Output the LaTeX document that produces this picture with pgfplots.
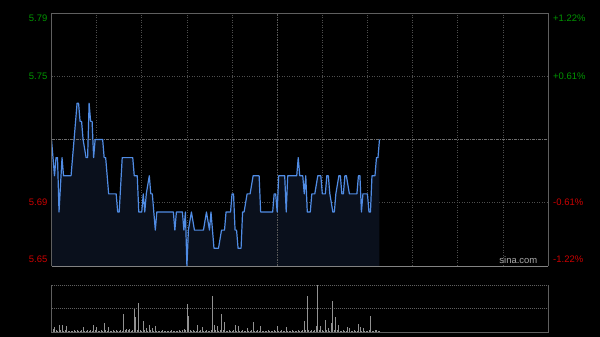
\documentclass[border=0pt]{standalone}
\usepackage{pgfplots}
\pgfplotsset{compat=1.18}
\usepackage{pgfplotstable}
\usepackage{fontspec}
\setmainfont{Liberation Sans}
\definecolor{upgreen}{RGB}{0,150,0}
\definecolor{dnred}{RGB}{205,0,0}
\definecolor{bordergray}{RGB}{95,95,95}
\definecolor{bottomgray}{RGB}{130,130,130}
\definecolor{gridgray}{RGB}{78,78,78}
\definecolor{centergray}{RGB}{110,110,110}
\definecolor{midgray}{RGB}{90,90,90}
\definecolor{pricel}{RGB}{80,140,228}
\definecolor{fillcol}{RGB}{10,16,28}
\definecolor{volgray}{RGB}{145,145,145}
\definecolor{volgrid}{RGB}{95,95,95}
\definecolor{sinagray}{RGB}{170,170,170}
\newcommand\lab{\fontsize{9.5}{11}\selectfont}

\pgfplotstableread{
m p
0 5.72
2 5.70
3 5.71
4 5.71
5 5.68
7 5.71
8 5.70
13 5.70
15 5.72
17 5.74
18 5.74
19 5.73
20 5.73
21 5.72
23 5.71
24 5.71
25 5.74
26 5.73
27 5.73
28 5.71
29 5.72
34 5.72
35 5.71
36 5.71
38 5.69
43 5.69
44 5.68
45 5.68
47 5.71
54 5.71
55 5.70
57 5.70
58 5.68
60 5.68
61 5.69
62 5.68
63 5.69
65 5.70
66 5.69
67 5.69
69 5.67
70 5.68
81 5.68
82 5.67
83 5.68
87 5.68
88 5.67
89 5.68
90 5.65
91 5.67
93 5.68
95 5.67
101 5.67
103 5.68
105 5.67
106 5.68
108 5.66
111 5.66
113 5.67
115 5.67
116 5.68
119 5.68
120 5.69
121 5.69
122 5.67
123 5.67
124 5.66
126 5.66
127 5.68
128 5.68
130 5.69
132 5.69
134 5.70
138 5.70
139 5.68
147 5.68
148 5.69
149 5.69
150 5.68
151 5.70
155 5.70
156 5.68
157 5.70
163 5.70
164 5.71
165 5.70
167 5.70
168 5.69
169 5.70
170 5.68
172 5.68
173 5.69
175 5.69
177 5.70
179 5.70
180 5.69
182 5.69
183 5.70
184 5.70
185 5.69
187 5.68
188 5.68
189 5.69
191 5.70
192 5.70
193 5.69
194 5.69
195 5.70
196 5.70
198 5.69
203 5.69
204 5.70
205 5.70
206 5.68
207 5.69
210 5.69
211 5.68
212 5.68
213 5.70
215 5.70
216 5.71
217 5.71
218 5.72
}\pricedata

\pgfplotstableread{
m v
0 .05
1 .07
2 .10
3 .04
4 .03
5 .15
6 .04
7 .15
8 .03
9 .04
10 .12
11 .03
12 .02
13 .03
14 .02
15 .04
16 .03
17 .05
18 .03
19 .02
20 .04
21 .11
22 .03
23 .02
24 .04
25 .03
26 .05
27 .03
28 .15
29 .04
30 .10
31 .03
32 .02
33 .04
34 .03
35 .19
36 .04
37 .03
38 .11
39 .03
40 .02
41 .04
42 .03
43 .05
44 .02
45 .03
46 .04
47 .03
48 .39
49 .05
50 .07
51 .04
52 .06
53 .03
54 .05
55 .50
56 .32
57 .04
58 .62
59 .05
60 .03
61 .23
62 .04
63 .08
64 .03
65 .15
66 .04
67 .08
68 .03
69 .13
70 .03
71 .02
72 .03
73 .02
74 .04
75 .02
76 .03
77 .02
78 .03
79 .02
80 .04
81 .03
82 .02
83 .03
84 .02
85 .04
86 .03
87 .04
88 .06
89 .04
90 .60
91 .33
92 .05
93 .03
94 .04
95 .03
96 .02
97 .15
98 .03
99 .04
100 .10
101 .03
102 .02
103 .04
104 .03
105 .02
106 .04
107 .77
108 .15
109 .04
110 .12
111 .03
112 .04
113 .39
114 .05
115 .22
116 .03
117 .02
118 .04
119 .03
120 .02
121 .04
122 .15
123 .03
124 .12
125 .03
126 .02
127 .04
128 .03
129 .02
130 .08
131 .03
132 .02
133 .04
134 .21
135 .03
136 .02
137 .04
138 .03
139 .12
140 .03
141 .02
142 .03
143 .02
144 .04
145 .02
146 .03
147 .02
148 .04
149 .03
150 .13
151 .03
152 .02
153 .04
154 .02
155 .03
156 .10
157 .02
158 .03
159 .02
160 .04
161 .03
162 .02
163 .03
164 .04
165 .02
166 .03
167 .04
168 .23
169 .05
170 .77
171 .04
172 .03
173 .05
174 .03
175 .04
176 .12
177 1.00
178 .05
179 .13
180 .04
181 .03
182 .26
183 .04
184 .08
185 .03
186 .19
187 .65
188 .05
189 .31
190 .04
191 .15
192 .03
193 .02
194 .04
195 .03
196 .02
197 .10
198 .08
199 .03
200 .02
201 .04
202 .03
203 .02
204 .18
205 .10
206 .03
207 .08
208 .02
209 .03
210 .02
211 .04
212 .33
213 .03
214 .02
215 .04
216 .05
217 .02
218 .03
}\voldata

\begin{document}
\begin{tikzpicture}
\fill[black] (0bp,0bp) rectangle (600bp,337bp);
\useasboundingbox (0bp,0bp) rectangle (600bp,337bp);

% ---------- price panel ----------
\begin{axis}[
  name=main,
  at={(51.5bp,71bp)}, anchor=south west, scale only axis,
  width=496.5bp, height=253bp,
  xmin=0, xmax=330, ymin=5.6502, ymax=5.7898,
  axis line style={draw=none},
  xtick={30,60,90,120,180,210,240,270,300},
  ytick={5.6851,5.7549},
  xticklabels={}, yticklabels={},
  major tick length=0pt,
  grid=major,
  major grid style={draw=gridgray, line width=0.6bp, dash pattern=on 1bp off 1.5bp},
  clip=true,
]
\addplot[fill=fillcol, draw=none] table[x=m,y=p]{\pricedata} \closedcycle;
\addplot[draw=midgray, line width=0.7bp, dash pattern=on 1.5bp off 1bp] coordinates {(150,5.6502) (150,5.7898)};
\addplot[draw=centergray, line width=0.7bp, dash pattern=on 3bp off 1bp on 1bp off 1bp] coordinates {(0,5.72) (330,5.72)};
\addplot[draw=pricel, line width=1.2bp, line join=round] table[x=m,y=p]{\pricedata};
\end{axis}
\draw[bordergray, line width=0.8bp] (main.south west) -- (main.north west) -- (main.north east) -- (main.south east);
\draw[bottomgray, line width=0.8bp] (main.south west) -- (main.south east);
\node[anchor=south east, inner sep=0pt, text=sinagray, font=\lab] at (537.5bp,73bp) {sina.com};

% ---------- volume panel ----------
\begin{axis}[
  name=vol,
  at={(51.5bp,5bp)}, anchor=south west, scale only axis,
  width=496.5bp, height=47bp,
  xmin=0, xmax=330, ymin=0, ymax=1,
  axis line style={draw=none},
  xtick=\empty,
  ytick={0.5},
  yticklabels={},
  major tick length=0pt,
  ymajorgrids,
  major grid style={draw=volgrid, line width=0.6bp, dash pattern=on 1bp off 1bp},
]
\addplot[ycomb, draw=volgray, line width=0.8bp] table[x=m,y=v]{\voldata};
\end{axis}
\draw[bordergray, line width=0.8bp] (vol.north west) -- (vol.south west) -- (vol.south east) -- (vol.north east);
\draw[volgrid, line width=0.7bp, dash pattern=on 1bp off 1bp] (vol.north west) -- (vol.north east);

% ---------- labels ----------
\node[anchor=mid east, inner sep=0pt, text=upgreen, font=\lab] at (47.5bp,318bp) {5.79};
\node[anchor=mid east, inner sep=0pt, text=upgreen, font=\lab] at (47.5bp,260bp) {5.75};
\node[anchor=mid east, inner sep=0pt, text=dnred, font=\lab] at (47.5bp,134bp) {5.69};
\node[anchor=mid east, inner sep=0pt, text=dnred, font=\lab] at (47.5bp,77bp) {5.65};
\node[anchor=mid west, inner sep=0pt, text=upgreen, font=\lab] at (553bp,318bp) {+1.22\%};
\node[anchor=mid west, inner sep=0pt, text=upgreen, font=\lab] at (553bp,260bp) {+0.61\%};
\node[anchor=mid west, inner sep=0pt, text=dnred, font=\lab] at (553bp,134bp) {-0.61\%};
\node[anchor=mid west, inner sep=0pt, text=dnred, font=\lab] at (553bp,77bp) {-1.22\%};
\end{tikzpicture}
\end{document}
